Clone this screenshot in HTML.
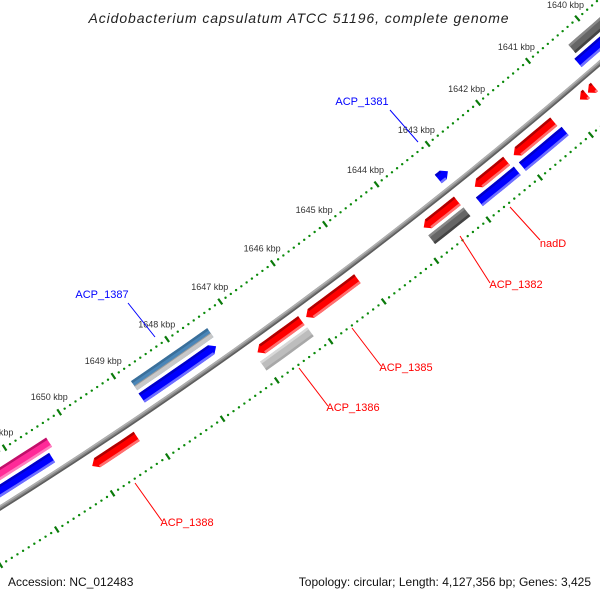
<!DOCTYPE html>
<html><head><meta charset="utf-8">
<style>
html,body{margin:0;padding:0;background:#fff;}
svg{display:block;font-family:"Liberation Sans",sans-serif;}
</style></head>
<body>
<svg id="map" width="600" height="600" viewBox="0 0 600 600">
<rect width="600" height="600" fill="#fff"/>
<g id="ticks"></g>
<g id="backbone"></g>
<g id="features"></g>
<g id="labels">
  <line x1="390" y1="110" x2="418" y2="142" stroke="#0000ff" stroke-width="1"/>
  <text x="362" y="105" fill="#0000ff" font-size="11" text-anchor="middle">ACP_1381</text>
  <line x1="128" y1="303" x2="155" y2="337" stroke="#0000ff" stroke-width="1"/>
  <text x="102" y="298" fill="#0000ff" font-size="11" text-anchor="middle">ACP_1387</text>
  <line x1="510" y1="207" x2="540" y2="240" stroke="#ff0000" stroke-width="1"/>
  <text x="553" y="247" fill="#ff0000" font-size="11" text-anchor="middle">nadD</text>
  <line x1="460" y1="236" x2="490" y2="283" stroke="#ff0000" stroke-width="1"/>
  <text x="516" y="288" fill="#ff0000" font-size="11" text-anchor="middle">ACP_1382</text>
  <line x1="352" y1="328" x2="381" y2="366" stroke="#ff0000" stroke-width="1"/>
  <text x="406" y="371" fill="#ff0000" font-size="11" text-anchor="middle">ACP_1385</text>
  <line x1="299" y1="368" x2="328" y2="406" stroke="#ff0000" stroke-width="1"/>
  <text x="353" y="411" fill="#ff0000" font-size="11" text-anchor="middle">ACP_1386</text>
  <line x1="135" y1="483" x2="162" y2="521" stroke="#ff0000" stroke-width="1"/>
  <text x="187" y="526" fill="#ff0000" font-size="11" text-anchor="middle">ACP_1388</text>
</g>
<text x="299" y="23" font-size="14" font-style="italic" fill="#222" text-anchor="middle" letter-spacing="0.9">Acidobacterium capsulatum ATCC 51196, complete genome</text>
<text x="8" y="586" font-size="12" fill="#111">Accession: NC_012483</text>
<text x="591" y="586" font-size="12" fill="#111" text-anchor="end">Topology: circular; Length: 4,127,356 bp; Genes: 3,425</text>
</svg>
<script>
// ---- data (kbp) ----
var majorTicks = [1639,1640,1641,1642,1643,1644,1645,1646,1647,1648,1649,1650,1651,1652];
var tickLabels = ["1639 kbp","1640 kbp","1641 kbp","1642 kbp","1643 kbp","1644 kbp","1645 kbp","1646 kbp","1647 kbp","1648 kbp","1649 kbp","1650 kbp","1651 kbp","1652 kbp"];
var featStart = [1639.4,1639.5,1640.49,1640.65,1641.30,1641.26,1642.23,1642.20,1643.02,1643.19,1643.18,1645.11,1646.17,1646.16,1647.45,1647.40,1649.22,1650.38,1650.47];
var featEnd   = [1640.37,1640.44,1640.62,1640.78,1642.09,1642.10,1642.85,1642.94,1643.21,1643.84,1643.86,1646.08,1646.99,1647.04,1648.83,1648.82,1650.03,1651.8,1651.8];
var featRing  = [2,1,-1,-1,-1,-2,-1,-2,1,-1,-2,-1,-1,-2,1,2,-1,2,1];
var featColor = ["gray","blue","red","red","red","blue","red","blue","blue","red","gray","red","red","lightgray","blue","steel","red","pink","blue"];
var featArrow = ["","","L","L","L","","L","","R","L","","L","L","","R","","L","",""];

var NS="http://www.w3.org/2000/svg";
function circ(a,b,c){
  var d=2*(a[0]*(b[1]-c[1])+b[0]*(c[1]-a[1])+c[0]*(a[1]-b[1]));
  var ux=((a[0]*a[0]+a[1]*a[1])*(b[1]-c[1])+(b[0]*b[0]+b[1]*b[1])*(c[1]-a[1])+(c[0]*c[0]+c[1]*c[1])*(a[1]-b[1]))/d;
  var uy=((a[0]*a[0]+a[1]*a[1])*(c[0]-b[0])+(b[0]*b[0]+b[1]*b[1])*(a[0]-c[0])+(c[0]*c[0]+c[1]*c[1])*(b[0]-a[0]))/d;
  return [ux,uy,Math.hypot(a[0]-ux,a[1]-uy)];
}
var C=circ([0,508],[397,230],[600,63]);
var cx=C[0],cy=C[1],R0=C[2];
var t46=Math.atan2(262-cy,272-cx), t41=Math.atan2(62-cy,529-cx);
var dT=(t46-t41)/5;
// positive offset = toward upper-left (toward the centre of this fitted arc)
var tickOff=R0-(Math.hypot(272-cx,262-cy)+Math.hypot(529-cx,62-cy))/2;
function th(k){return t46+(k-1646)*dT;}
function P(k,off){var t=th(k),r=R0-off;return [cx+r*Math.cos(t),cy+r*Math.sin(t)];}
function pts(a){return a.map(function(p){return p[0].toFixed(1)+","+p[1].toFixed(1);}).join(" ");}
function mk(tag,attrs,parent){var e=document.createElementNS(NS,tag);for(var k in attrs)e.setAttribute(k,attrs[k]);parent.appendChild(e);return e;}

// ticks
var gT=document.getElementById('ticks');
[tickOff,-tickOff].forEach(function(off,ti){
  for(var i=16380;i<=16530;i++){
    var k=i/10;
    if(i%10===0){
      var a=P(k,off-3.5),b=P(k,off+3.5);
      var ln=mk('line',{x1:a[0],y1:a[1],x2:b[0],y2:b[1],stroke:'#0a7a0a','stroke-width':2.2},gT);
      
      
    } else {
      var p=P(k,off);
      var r=mk('circle',{cx:p[0],cy:p[1],r:1.2,fill:'#0a8a0a'},gT);
      
      
    }
  }
});
majorTicks.forEach(function(k,i){
  var p=P(k,tickOff+18);
  var t=mk('text',{x:p[0],y:p[1]+3,'font-size':9,fill:'#333','text-anchor':'middle'},gT);
  t.textContent=tickLabels[i];
  
  
});

// backbone
var gB=document.getElementById('backbone');
function arcPts(off){var a=[];for(var k=1637;k<=1654;k+=0.25)a.push(P(k,off));return a;}
[[0,5,'#8a8a8a'],[1.6,1.6,'#b0b0b0'],[-1.6,1.6,'#5e5e5e']].forEach(function(s){
  var pl=mk('polyline',{points:pts(arcPts(s[0])),fill:'none',stroke:s[2],'stroke-width':s[1]},gB);
  
  
});

// features
var pal={red:['#b00000','#ff0000','#ff7070'],blue:['#0000c8','#0000ff','#7070ff'],gray:['#888','#666','#444'],
  lightgray:['#d8d8d8','#bdbdbd','#a8a8a8'],pink:['#c0106a','#ff2a98','#ff80c0'],steel:['#3a6f9a','#4a86b8','#c8c8c8']};
var gF=document.getElementById('features');
var HW=5.5, HEAD=0.09;
function band(k1,k2,o1,o2,arrow,center){
  var s=k1,e=k2,out=[],inn=[];
  if(arrow==='R')s=k1+HEAD; if(arrow==='L')e=k2-HEAD;
  var n=6;
  for(var j=0;j<=n;j++){var k=s+(e-s)*j/n;out.push(P(k,o2));}
  for(var j=n;j>=0;j--){var k=s+(e-s)*j/n;inn.push(P(k,o1));}
  var poly=out.slice();
  if(arrow==='L'){poly.push(P(k2,center));}
  poly=poly.concat(inn);
  if(arrow==='R'){poly.push(P(k1,center));}
  return poly;
}
for(var i=0;i<featStart.length;i++){
  var c=featRing[i]*14.5, col=pal[featColor[i]], a=featArrow[i];
  var g=mk('g',{},gF);
  
  
  var ks=featStart[i],ke=featEnd[i];
  mk('polygon',{points:pts(band(ks,ke,c-HW,c+HW,a,c)),fill:col[1]},g);
  if(featColor[i]==='steel'){
    mk('polygon',{points:pts(band(ks,ke,c-HW,c-0.5,a,c)),fill:col[2]},g);
    mk('polygon',{points:pts(band(ks,ke,c-1.2,c-0.2,a,c)),fill:'#9a9a9a'},g);
    mk('polygon',{points:pts(band(ks,ke,c+HW-2.5,c+HW,a,c)),fill:col[0]},g);
  } else {
    mk('polygon',{points:pts(band(ks+(a==='R'?HEAD:0),ke-(a==='L'?HEAD:0),c+HW-2.5,c+HW,'',c)),fill:col[0]},g);
    mk('polygon',{points:pts(band(ks+(a==='R'?HEAD:0),ke-(a==='L'?HEAD:0),c-HW,c-HW+2.5,'',c)),fill:col[2]},g);
  }
}
</script>
</body></html>
